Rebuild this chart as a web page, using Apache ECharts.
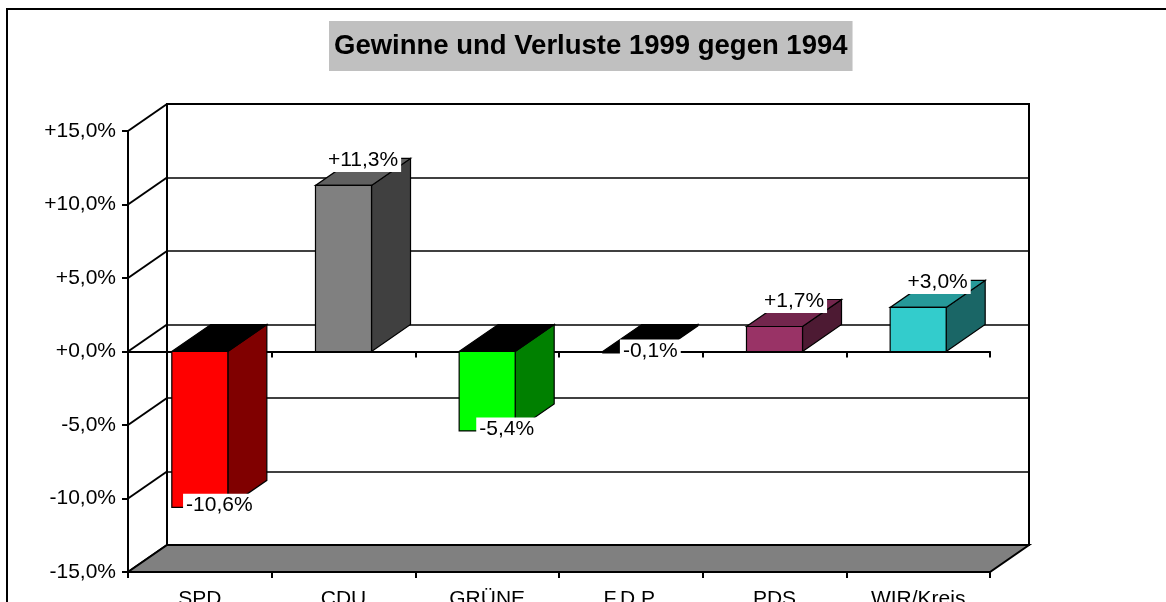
<!DOCTYPE html>
<html lang="de">
<head>
	<meta charset="utf-8">
	<title>Gewinne und Verluste 1999 gegen 1994</title>
	<script src="https://cdn.jsdelivr.net/npm/echarts@6/dist/echarts.min.js"></script>
</head>
<body style="margin: 0; background: #fff">
<div id="container" style="width: 1166px; height: 602px"></div>
<script type="text/javascript">

	// Daten
	var categories = ['SPD', 'CDU', 'GRÜNE', 'F.D.P.', 'PDS', 'WIR/Kreis'];
	var changes = [-10.6, 11.3, -5.4, -0.1, 1.7, 3.0];
	var frontColors = ['#ff0000', '#808080', '#00ff00', '#000000', '#993366', '#33cccc'];
	var sideColors = ['#800000', '#404040', '#008000', '#000000', '#4d1a33', '#1a6666'];
	var topColors = ['#000000', '#606060', '#000000', '#000000', '#73264d', '#269999'];
	var yMin = -15;
	var yMax = 15;
	var yStep = 5;
	var yTicks = [-15, -10, -5, 0, 5, 10, 15];

	// Tiefe der 3D-Darstellung (Pixel)
	var DX = 39;
	var DY = -27;
	var FONT = '"Liberation Sans", Arial, sans-serif';

	function fmt(v) {
		return (v >= 0 ? '+' : '') + v.toFixed(1).replace('.', ',') + '%';
	}

	function renderBar(params, api) {
		var i = api.value(0);
		var v = api.value(1);
		var base = api.coord([i, 0]);
		var end = api.coord([i, v]);
		var w = api.size([1, 0])[0] * 0.39;
		var x0 = base[0] - w / 2, x1 = base[0] + w / 2;
		var y0 = base[1], y1 = end[1];
		var yTop = Math.min(y0, y1);
		var edge = {stroke: '#000', lineWidth: 1.2};
		return {
			type: 'group',
			children: [
				{
					type: 'polygon',
					shape: {points: [[x1, y0], [x1 + DX, y0 + DY], [x1 + DX, y1 + DY], [x1, y1]]},
					style: Object.assign({fill: sideColors[i]}, edge)
				},
				{
					type: 'polygon',
					shape: {points: [[x0, yTop], [x1, yTop], [x1 + DX, yTop + DY], [x0 + DX, yTop + DY]]},
					style: Object.assign({fill: topColors[i]}, edge)
				},
				{
					type: 'polygon',
					shape: {points: [[x0, y0], [x1, y0], [x1, y1], [x0, y1]]},
					style: Object.assign({fill: frontColors[i]}, edge)
				}
			]
		};
	}

	function renderLabel(params, api) {
		var i = api.value(0);
		var v = api.value(1);
		var base = api.coord([i, 0]);
		var end = api.coord([i, v]);
		return {
			type: 'text',
			x: base[0] + DX / 2,
			y: end[1] + DY / 2,
			style: {
				text: fmt(v),
				font: '21px ' + FONT,
				fill: '#000',
				align: 'center',
				verticalAlign: v >= 0 ? 'bottom' : 'top',
				backgroundColor: '#fff',
				padding: [1, 3]
			}
		};
	}

	// Seitenwand links: Linien von der vorderen Achse nach hinten
	function renderSideWall(params, api) {
		var p = api.coord([0, api.value(1)]);
		var x = params.coordSys.x;
		return {
			type: 'line',
			shape: {x1: x, y1: p[1], x2: x + DX, y2: p[1] + DY},
			style: {stroke: '#000', lineWidth: 2}
		};
	}

	// Boden
	function renderFloor(params, api) {
		var cs = params.coordSys;
		var y = api.coord([0, api.value(1)])[1];
		var xa = cs.x, xb = cs.x + cs.width;
		return {
			type: 'polygon',
			shape: {points: [[xa, y], [xb, y], [xb + DX, y + DY], [xa + DX, y + DY]]},
			style: {fill: '#808080', stroke: '#000', lineWidth: 2}
		};
	}

	var dom = document.getElementById('container');
	var myChart = echarts.init(dom, null, {renderer: 'canvas'});

	var option = {
		animation: false,
		title: {
			text: 'Gewinne und Verluste 1999 gegen 1994',
			left: 329,
			top: 21,
			backgroundColor: '#c0c0c0',
			padding: [11, 5],
			textStyle: {
				fontFamily: FONT,
				fontSize: 27.5,
				fontWeight: 'bold',
				color: '#000'
			}
		},
		graphic: [
			{
				type: 'rect',
				shape: {x: 7, y: 9, width: 1300, height: 800},
				style: {fill: 'none', stroke: '#000', lineWidth: 2},
				silent: true
			}
		],
		grid: [
			{left: 128, top: 131, width: 862, height: 441, outerBoundsMode: 'none', containLabel: false},
			{
				left: 128 + DX, top: 131 + DY, width: 862, height: 441,
				outerBoundsMode: 'none', containLabel: false,
				show: true, backgroundColor: '#fff', borderColor: '#000', borderWidth: 2
			}
		],
		xAxis: [
			{
				gridIndex: 0,
				type: 'category',
				data: categories,
				position: 'bottom',
				axisLine: {onZero: true, lineStyle: {color: '#000', width: 2}},
				axisTick: {show: true, length: 6, lineStyle: {color: '#000', width: 2}},
				axisLabel: {show: false}
			},
			{
				gridIndex: 0,
				type: 'category',
				data: categories,
				position: 'bottom',
				axisLine: {onZero: false, lineStyle: {color: '#000', width: 2}},
				axisTick: {show: true, length: 6, lineStyle: {color: '#000', width: 2}},
				axisLabel: {margin: 17, color: '#000', fontFamily: FONT, fontSize: 21}
			},
			{
				gridIndex: 1,
				type: 'category',
				data: categories,
				show: false
			}
		],
		yAxis: [
			{
				gridIndex: 0,
				type: 'value',
				min: yMin,
				max: yMax,
				interval: yStep,
				axisLine: {show: true, lineStyle: {color: '#000', width: 2}},
				axisTick: {show: true, length: 6, lineStyle: {color: '#000', width: 2}},
				splitLine: {show: false},
				axisLabel: {
					margin: 12,
					color: '#000',
					fontFamily: FONT,
					fontSize: 21,
					formatter: fmt
				}
			},
			{
				gridIndex: 1,
				type: 'value',
				min: yMin,
				max: yMax,
				interval: yStep,
				axisLine: {show: false},
				axisTick: {show: false},
				axisLabel: {show: false},
				splitLine: {show: true, lineStyle: {color: '#000', width: 1.5}}
			}
		],
		series: [
			{
				type: 'custom',
				name: 'Seitenwand',
				xAxisIndex: 0,
				yAxisIndex: 0,
				z: 1,
				silent: true,
				renderItem: renderSideWall,
				data: yTicks.map(function (v) { return [0, v]; })
			},
			{
				type: 'custom',
				name: 'Boden',
				xAxisIndex: 0,
				yAxisIndex: 0,
				z: 1,
				silent: true,
				renderItem: renderFloor,
				data: [[0, yMin]]
			},
			{
				type: 'custom',
				name: 'Gewinne/Verluste',
				xAxisIndex: 0,
				yAxisIndex: 0,
				z: 3,
				renderItem: renderBar,
				data: changes.map(function (v, i) { return [i, v]; })
			},
			{
				type: 'custom',
				name: 'Beschriftung',
				xAxisIndex: 0,
				yAxisIndex: 0,
				z: 5,
				silent: true,
				renderItem: renderLabel,
				data: changes.map(function (v, i) { return [i, v]; })
			}
		]
	};

	myChart.setOption(option);

</script>
</body>
</html>
